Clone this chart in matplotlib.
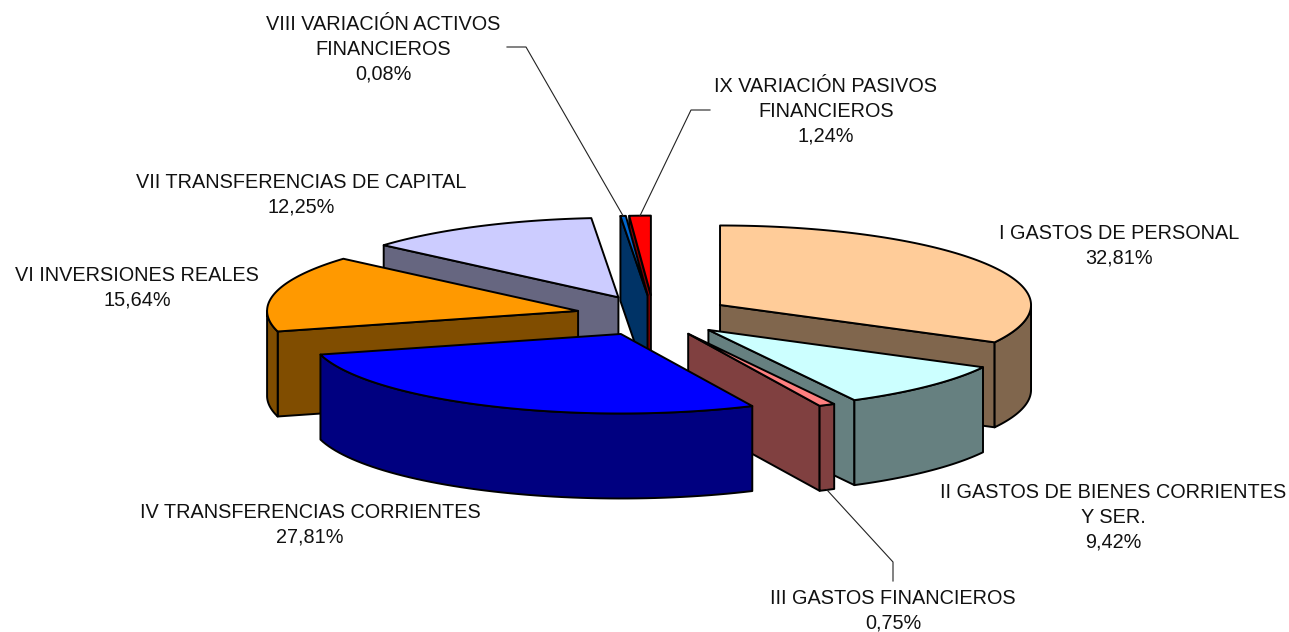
import numpy as np
import matplotlib
matplotlib.use('Agg')
import matplotlib.pyplot as plt

plt.rcParams['font.family'] = ['Liberation Sans', 'DejaVu Sans']

# Datos
categories = ['I GASTOS DE PERSONAL', 'II GASTOS DE BIENES CORRIENTES\nY SER.', 'III GASTOS FINANCIEROS',
              'IV TRANSFERENCIAS CORRIENTES', 'VI INVERSIONES REALES', 'VII TRANSFERENCIAS DE CAPITAL',
              'VIII VARIACIÓN ACTIVOS\nFINANCIEROS', 'IX VARIACIÓN PASIVOS\nFINANCIEROS']
values = [32.81, 9.42, 0.75, 27.81, 15.64, 12.25, 0.08, 1.24]
top_colors = ['#FFCC99', '#CCFFFF', '#FF8080', '#0000FF', '#FF9900', '#CCCCFF', '#0066CC', '#FF0000']
side_colors = ['#80664D', '#668080', '#804040', '#000080', '#804D00', '#666680', '#003366', '#800000']

# Posiciones de etiquetas (centro x, y primera linea) en pixeles
label_pos = [(1119, 232), (1113, 491), (893, 597), (310, 511), (137, 274), (301, 181), (383, 23), (826, 85)]
draw_order = [7, 6, 5, 4, 0, 1, 2, 3]

W, H = 1289, 632
CX, CY = 653.6, 315.5   # centro del pie
RX, RY = 311, 79.5      # elipse
EX, EY = 77.5, 20.4     # explosion
DEPTH = 85

fig = plt.figure(figsize=(W / 100, H / 100), dpi=100)
ax = fig.add_axes([0, 0, 1, 1])
ax.set_xlim(0, W)
ax.set_ylim(H, 0)
ax.axis('off')

# Excel redondea los angulos a grados enteros
bounds = np.round(np.cumsum([0] + values) / sum(values) * 360)


def tip_of(i):
    mid = np.radians((bounds[i] + bounds[i + 1]) / 2)
    return CX + EX * np.sin(mid), CY - EY * np.cos(mid)


def rim(i, deg):
    tx, ty = tip_of(i)
    a = np.radians(deg)
    return tx + RX * np.sin(a), ty - RY * np.cos(a)


def poly(xs, ys, color):
    ax.fill(xs, ys, facecolor=color, edgecolor='black', linewidth=1.4, joinstyle='round')


def cut_face(i, deg, color):
    tx, ty = tip_of(i)
    x, y = rim(i, deg)
    poly([tx, x, x, tx], [ty, y, y + DEPTH, ty + DEPTH], color)


for i in draw_order:
    a0, a1 = bounds[i], bounds[i + 1]
    tx, ty = tip_of(i)
    # caras de corte que miran hacia delante
    if 180 < a0 < 360:
        cut_face(i, a0, side_colors[i])
    if 0 < a1 < 180:
        cut_face(i, a1, side_colors[i])
    # pared exterior
    w0, w1 = max(a0, 90), min(a1, 270)
    if w1 > w0:
        arc = np.linspace(w0, w1, 60)
        xs, ys = rim(i, arc)
        poly(np.r_[xs, xs[::-1]], np.r_[ys, ys[::-1] + DEPTH], side_colors[i])
    # tapa
    arc = np.linspace(a0, a1, 120)
    xs, ys = rim(i, arc)
    poly(np.r_[tx, xs], np.r_[ty, ys], top_colors[i])

# Lineas guia
leaders = {2: [(893, 581), (893, 562)], 6: [(507, 47), (526, 47)], 7: [(710, 110), (691, 110)]}
for i, pts in leaders.items():
    mid = (bounds[i] + bounds[i + 1]) / 2
    x, y = rim(i, mid)
    if i == 2:
        y += DEPTH
    px = [p[0] for p in pts] + [x]
    py = [p[1] for p in pts] + [y]
    ax.plot(px, py, color='#222222', lw=0.8)

for name, val, (x, y) in zip(categories, values, label_pos):
    txt = name + '\n' + f'{val:.2f}'.replace('.', ',') + '%'
    ax.text(x, y - 8, txt, ha='center', va='top', fontsize=14.3, color='#111111', linespacing=1.38)

fig.savefig('out.png', dpi=100)
